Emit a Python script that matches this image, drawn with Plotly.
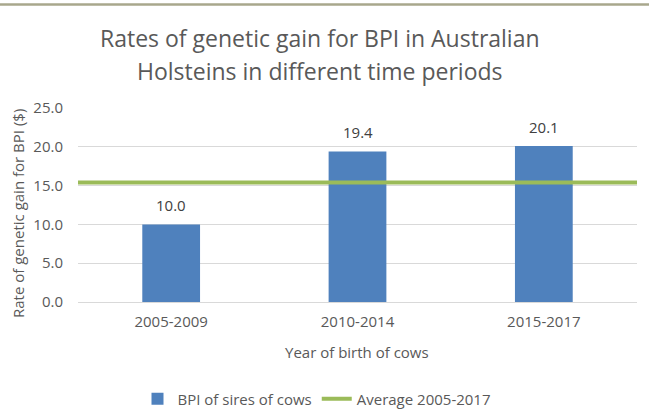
import plotly.graph_objects as go

categories = ["2005-2009", "2010-2014", "2015-2017"]
bpi_values = [10.0, 19.4, 20.1]
average_value = [15.4, 15.4]
average_x = [0, 1]
y_ticks = [0, 5, 10, 15, 20, 25]
y_tick_labels = ["0.0", "5.0", "10.0", "15.0", "20.0", "25.0"]

FONT = "Open Sans"
W, H = 649, 420
L, R, T, B = 78, 12, 108, 118
PW = W - L - R
PH = H - T - B

def py(p):
    return (H - B - p) / PH

def px(p):
    return (p - L) / PW

fig = go.Figure()
fig.add_trace(go.Bar(
    x=categories, y=bpi_values, name="BPI of sires of cows",
    marker=dict(color="#4F81BD", line=dict(width=0)),
))
fig.add_trace(go.Scatter(
    x=average_x, y=average_value, name="Average 2005-2017",
    mode="lines", line=dict(color="#9BBB59", width=4),
    xaxis="x2", yaxis="y",
))

value_labels = [
    dict(text=f"{v:.1f}", x=c, y=v, xref="x", yref="y", xanchor="center",
         yanchor="bottom", yshift=7, showarrow=False,
         font=dict(size=15, color="#404040", family=FONT))
    for c, v in zip(categories, bpi_values)
]

fig.update_layout(
    width=W, height=H,
    margin=dict(l=L, r=R, t=T, b=B, pad=0, autoexpand=False),
    paper_bgcolor="white", plot_bgcolor="white",
    font=dict(family=FONT, color="#595959", size=15),
    bargap=0.69,
    showlegend=True,
    legend=dict(orientation="h", xref="container", yref="container",
                x=317 / W, xanchor="center", y=1 - 399 / H, yanchor="middle",
                font=dict(size=15, color="#595959", family=FONT),
                itemwidth=30, tracegroupgap=0),
    xaxis=dict(type="category", showgrid=False, zeroline=False, showline=False,
               ticks="", tickfont=dict(size=15, color="#595959"),
               ticklabelstandoff=9, automargin=False),
    xaxis2=dict(overlaying="x", range=[0, 1], visible=False, showgrid=False),
    yaxis=dict(range=[0, 25], tickvals=y_ticks, ticktext=y_tick_labels,
               showgrid=True, gridcolor="#D9D9D9", gridwidth=1,
               zeroline=True, zerolinecolor="#D9D9D9", zerolinewidth=1,
               showline=False, ticks="", tickfont=dict(size=15, color="#595959"),
               ticklabelstandoff=14, automargin=False),
    shapes=[dict(type="line", xref="paper", yref="paper",
                 x0=px(0), x1=px(W), y0=py(4.5), y1=py(4.5),
                 line=dict(color="#A8A78C", width=2.5))],
    annotations=value_labels + [
        dict(text="Rates of genetic gain for BPI in Australian", xref="paper", yref="paper",
             x=px(320), y=py(38), xanchor="center", yanchor="middle", showarrow=False,
             font=dict(size=23, color="#595959", family=FONT)),
        dict(text="Holsteins in different time periods", xref="paper", yref="paper",
             x=px(320), y=py(71), xanchor="center", yanchor="middle", showarrow=False,
             font=dict(size=23, color="#595959", family=FONT)),
        dict(text="Year of birth of cows", xref="paper", yref="paper",
             x=px(357), y=py(352), xanchor="center", yanchor="middle", showarrow=False,
             font=dict(size=15, color="#595959", family=FONT)),
        dict(text="Rate of genetic gain for BPI ($)", xref="paper", yref="paper",
             x=px(18), y=py(214), xanchor="center", yanchor="middle", showarrow=False,
             textangle=-90, font=dict(size=15, color="#595959", family=FONT)),
    ],
)

fig.write_html(
    "out.html",
    config={"displayModeBar": False},
    post_script="document.body.style.margin='0';document.body.style.overflow='hidden';",
)
